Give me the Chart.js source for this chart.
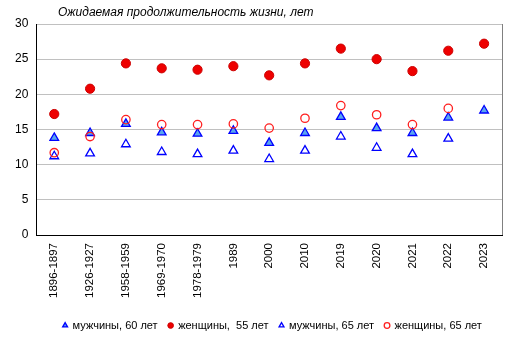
<!DOCTYPE html>
<html>
<head>
<meta charset="utf-8">
<script src="https://cdn.jsdelivr.net/npm/chart.js@4"></script>
<style>
  html, body { margin: 0; padding: 0; background: #fff; }
  #wrap { width: 514px; height: 339px; }
</style>
</head>
<body>
<div id="wrap"><canvas id="chart" width="514" height="339"></canvas></div>
<script>
const periods = ['1896-1897', '1926-1927', '1958-1959', '1969-1970', '1978-1979', '1989', '2000', '2010', '2019', '2020', '2021', '2022', '2023'];
const men60 = [13.8, 14.5, 15.8, 14.6, 14.4, 14.8, 13.1, 14.5, 16.8, 15.2, 14.5, 16.7, 17.7];
const women55 = [17.2, 20.8, 24.4, 23.7, 23.5, 24.0, 22.7, 24.4, 26.5, 25.0, 23.3, 26.2, 27.2];
const men65 = [11.2, 11.6, 12.9, 11.8, 11.5, 12.0, 10.8, 12.0, 14.0, 12.4, 11.5, 13.7, null];
const women65 = [11.7, 14.0, 16.4, 15.7, 15.7, 15.8, 15.2, 16.6, 18.4, 17.1, 15.7, 18.0, null];
const yTicks = [0, 5, 10, 15, 20, 25, 30];

const titleText = 'Ожидаемая продолжительность жизни, лет';

// title at the left, grey right border, legend nudged under the plot
const extras = {
    id: 'extras',
    afterLayout(chart) {
        const lg = chart.legend;
        lg.left += 18;
        lg.right += 18;
        lg.top += 3;
        lg.bottom += 3;
    },
    afterDraw(chart) {
        const ctx = chart.ctx;
        const area = chart.chartArea;
        ctx.save();
        ctx.strokeStyle = '#808080';
        ctx.lineWidth = 1;
        ctx.beginPath();
        ctx.moveTo(Math.round(area.right) + 0.5, area.top);
        ctx.lineTo(Math.round(area.right) + 0.5, area.bottom);
        ctx.stroke();
        ctx.fillStyle = '#000';
        ctx.font = 'italic 12px "Liberation Sans", Arial, sans-serif';
        ctx.textBaseline = 'middle';
        ctx.fillText(titleText, 58, 13);
        ctx.restore();
    }
};

const ctx = document.getElementById('chart').getContext('2d');
new Chart(ctx, {
    type: 'line',
    data: {
        labels: periods,
        datasets: [
            {
                label: 'мужчины, 60 лет',
                data: men60,
                showLine: false,
                pointStyle: 'triangle',
                pointRadius: 5,
                backgroundColor: '#5aa5f0',
                borderColor: '#0000ff',
                pointBorderWidth: 1.3,
                order: 4
            },
            {
                label: 'женщины,  55 лет',
                data: women55,
                showLine: false,
                pointStyle: 'circle',
                pointRadius: 4.6,
                backgroundColor: '#ee0000',
                borderColor: '#cc0000',
                pointBorderWidth: 1,
                order: 3
            },
            {
                label: 'мужчины, 65 лет',
                data: men65,
                showLine: false,
                pointStyle: 'triangle',
                pointRadius: 5,
                backgroundColor: 'rgba(255,255,255,0)',
                borderColor: '#0000ff',
                pointBorderWidth: 1.3,
                order: 2
            },
            {
                label: 'женщины, 65 лет',
                data: women65,
                showLine: false,
                pointStyle: 'circle',
                pointRadius: 4.2,
                backgroundColor: 'rgba(255,255,255,0)',
                borderColor: '#ff2020',
                pointBorderWidth: 1.3,
                order: 1
            }
        ]
    },
    options: {
        responsive: false,
        animation: false,
        layout: {
            padding: { top: 24, right: 12, left: 7, bottom: 1 }
        },
        plugins: {
            title: { display: false },
            tooltip: { enabled: false },
            legend: {
                position: 'bottom',
                labels: {
                    usePointStyle: true,
                    boxWidth: 4,
                    boxHeight: 4,
                    padding: 11,
                    color: '#000',
                    font: { family: '"Liberation Sans", Arial, sans-serif', size: 11 },
                    sort: (a, b) => a.datasetIndex - b.datasetIndex
                }
            }
        },
        scales: {
            x: {
                offset: true,
                grid: { display: false, drawTicks: false },
                border: { color: '#000', width: 1 },
                ticks: {
                    minRotation: 90,
                    maxRotation: 90,
                    autoSkip: false,
                    padding: 8,
                    color: '#000',
                    font: { family: '"Liberation Sans", Arial, sans-serif', size: 11.5 }
                }
            },
            y: {
                min: 0,
                max: 30,
                afterBuildTicks: axis => { axis.ticks = yTicks.map(v => ({ value: v })); },
                grid: { color: '#c0c0c0', drawTicks: false },
                border: { color: '#000', width: 1 },
                ticks: {
                    padding: 8,
                    color: '#000',
                    font: { family: '"Liberation Sans", Arial, sans-serif', size: 12 }
                }
            }
        }
    },
    plugins: [extras]
});
</script>
</body>
</html>
